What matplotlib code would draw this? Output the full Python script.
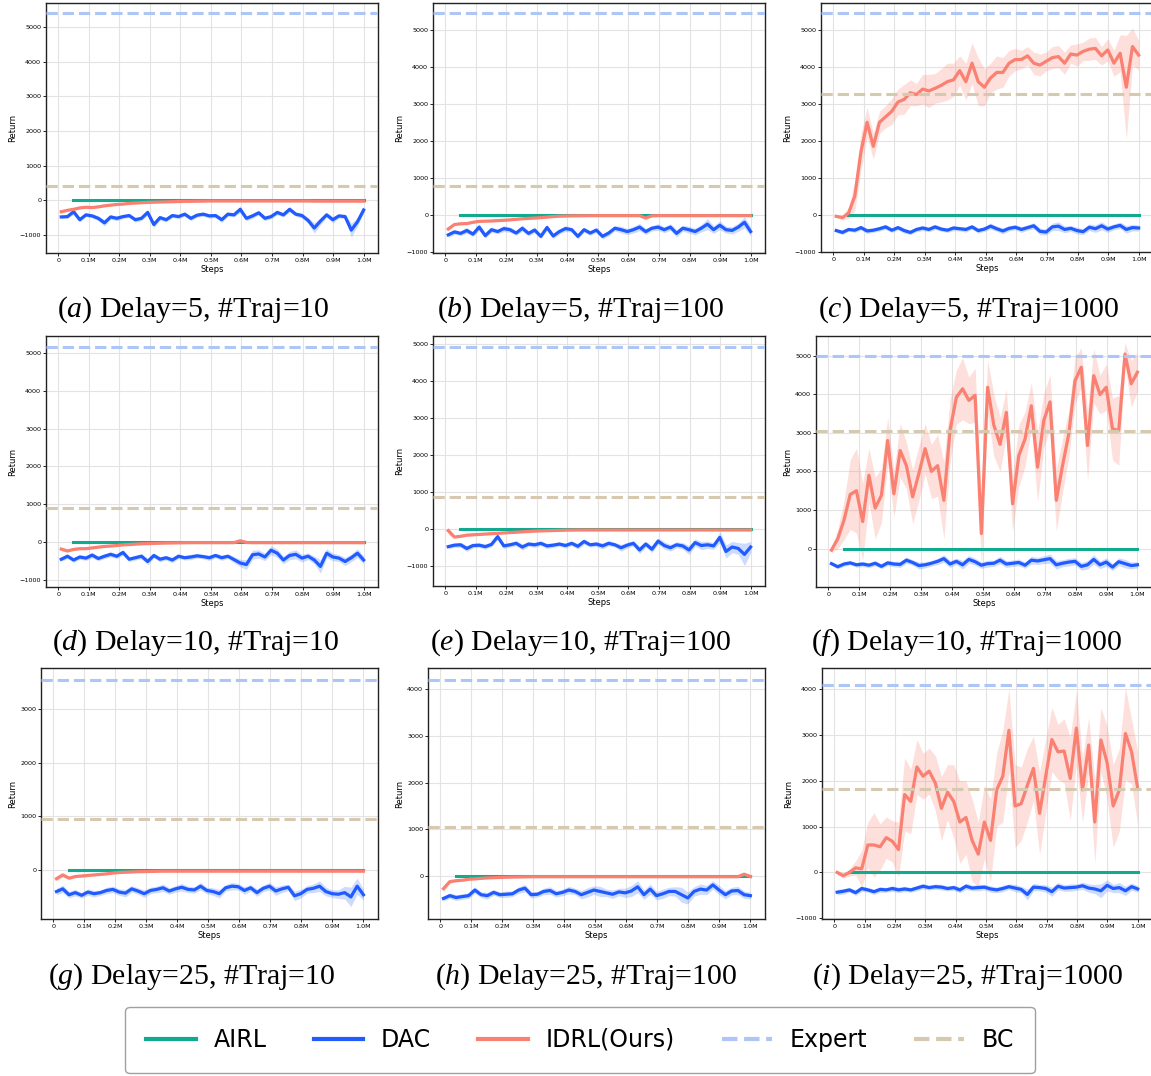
import numpy as np
import matplotlib
matplotlib.use("Agg")
import matplotlib.pyplot as plt
from matplotlib.lines import Line2D
from matplotlib.ticker import MultipleLocator

plt.rcParams["mathtext.fontset"] = "custom"
plt.rcParams["mathtext.rm"] = "Liberation Serif"
plt.rcParams["mathtext.it"] = "Liberation Serif:italic"

# evaluation steps (in millions)
STEPS = np.linspace(0.01, 1.0, 50)
AIRL_START = 0.05
AIRL_END = 1.0

LETTERS = ["a", "b", "c", "d", "e", "f", "g", "h", "i"]
DELAYS = [5, 5, 5, 10, 10, 10, 25, 25, 25]
TRAJS = [10, 100, 1000, 10, 100, 1000, 10, 100, 1000]

EXPERT = [5400, 5450, 5450, 5175, 4927, 4990, 3540, 4200, 4087]
BC = [410, 790, 3262, 886, 867, 3047, 950, 1048, 1812]
AIRL = [0, 0, 0, 0, 0, 0, 0, 0, 0]

X_TICKS = [0, 0.1, 0.2, 0.3, 0.4, 0.5, 0.6, 0.7, 0.8, 0.9, 1.0]
X_TICK_LABELS = ["0", "0.1M", "0.2M", "0.3M", "0.4M", "0.5M",
                 "0.6M", "0.7M", "0.8M", "0.9M", "1.0M"]

# (a) Delay=5, #Traj=10
DAC_A = [-480, -470, -330, -560, -420, -450, -520, -650, -480, -520,
         -470, -440, -560, -520, -350, -700, -500, -560, -440, -470,
         -400, -520, -430, -400, -450, -440, -560, -400, -420, -260,
         -520, -450, -360, -520, -470, -350, -420, -260, -400, -440,
         -580, -800, -600, -420, -560, -450, -470, -860, -620, -280]
DAC_A_SD = [40, 50, 80, 60, 50, 60, 70, 90, 60, 70,
            60, 50, 70, 60, 80, 90, 70, 60, 60, 60,
            60, 70, 60, 60, 60, 60, 80, 60, 60, 90,
            70, 70, 60, 70, 60, 70, 60, 80, 60, 70,
            80, 150, 100, 60, 90, 60, 60, 200, 120, 80]
IDRL_A = [-330, -290, -260, -220, -200, -210, -190, -160, -140, -120,
          -110, -90, -80, -70, -60, -55, -50, -45, -40, -35,
          -30, -30, -25, -25, -20, -20, -20, -20, -20, -20,
          -20, -20, -20, -20, -20, -20, -20, -20, -20, -20,
          -20, -25, -25, -25, -25, -25, -25, -25, -25, -25]
IDRL_A_SD = [30, 30, 25, 25, 20, 20, 20, 15, 15, 15,
             12, 12, 10, 10, 10, 10, 10, 10, 10, 10,
             8, 8, 8, 8, 8, 8, 8, 8, 8, 8,
             8, 8, 8, 8, 8, 8, 8, 8, 8, 8,
             8, 10, 10, 10, 10, 10, 10, 10, 10, 10]

# (b) Delay=5, #Traj=100
DAC_B = [-540, -460, -500, -420, -520, -330, -560, -400, -450, -370,
         -400, -490, -360, -500, -410, -580, -340, -570, -450, -370,
         -400, -580, -400, -490, -410, -580, -490, -360, -400, -450,
         -400, -330, -450, -360, -330, -400, -330, -500, -360, -400,
         -450, -360, -250, -400, -280, -400, -420, -330, -200, -450]
DAC_B_SD = [60, 70, 60, 80, 60, 90, 70, 70, 60, 80,
            70, 60, 80, 70, 70, 60, 80, 70, 70, 80,
            60, 70, 70, 60, 60, 70, 80, 70, 90, 80,
            90, 100, 80, 70, 90, 80, 90, 100, 80, 90,
            90, 100, 150, 100, 120, 90, 100, 110, 150, 120]
IDRL_B = [-380, -260, -240, -235, -200, -175, -170, -165, -155, -145,
          -135, -120, -105, -95, -85, -75, -60, -45, -35, -30,
          -25, -25, -22, -20, -20, -20, -20, -20, -20, -20,
          -20, -20, -85, -25, -20, -20, -20, -20, -20, -20,
          -20, -20, -20, -20, -20, -20, -20, -20, -20, -20]
IDRL_B_SD = [40, 30, 25, 25, 20, 20, 18, 15, 15, 15,
             12, 12, 10, 10, 10, 10, 10, 10, 10, 10,
             8, 8, 8, 8, 8, 8, 8, 8, 8, 8,
             8, 8, 30, 8, 8, 8, 8, 8, 8, 8,
             8, 8, 8, 8, 8, 8, 8, 8, 8, 8]

# (c) Delay=5, #Traj=1000
DAC_C = [-430, -480, -400, -420, -350, -440, -420, -380, -330, -420,
         -350, -430, -480, -400, -360, -400, -330, -390, -420, -360,
         -380, -400, -330, -430, -390, -310, -380, -440, -370, -340,
         -400, -350, -300, -450, -470, -330, -310, -400, -370, -430,
         -460, -340, -380, -300, -390, -330, -290, -400, -350, -360]
DAC_C_SD = [50, 60, 50, 60, 60, 70, 60, 60, 70, 60,
            60, 70, 60, 60, 70, 60, 70, 60, 60, 70,
            60, 70, 60, 70, 60, 80, 70, 80, 70, 70,
            80, 70, 80, 90, 80, 100, 120, 90, 80, 90,
            80, 90, 100, 110, 90, 80, 90, 100, 90, 80]
IDRL_C = [-45, -80, 45, 500, 1700, 2500, 1850, 2500, 2650, 2800,
          3050, 3120, 3300, 3250, 3400, 3350, 3420, 3500, 3600, 3650,
          3900, 3600, 4100, 3600, 3450, 3700, 3850, 3850, 4100, 4200,
          4200, 4300, 4100, 4050, 4150, 4250, 4280, 4100, 4350, 4320,
          4420, 4480, 4500, 4300, 4460, 4100, 4370, 3450, 4550, 4320]
IDRL_C_SD = [30, 60, 150, 400, 500, 400, 350, 300, 300, 350,
             350, 400, 350, 300, 400, 450, 400, 450, 500, 450,
             400, 500, 550, 650, 500, 400, 450, 400, 350, 300,
             250, 250, 300, 300, 250, 300, 300, 300, 250, 300,
             250, 300, 300, 250, 300, 350, 500, 1400, 500, 400]

# (d) Delay=10, #Traj=10
DAC_D = [-460, -380, -480, -400, -430, -350, -440, -380, -330, -380,
         -280, -460, -420, -380, -520, -360, -460, -420, -480, -380,
         -420, -400, -370, -390, -420, -360, -420, -380, -470, -560,
         -600, -340, -320, -400, -220, -300, -480, -360, -330, -430,
         -380, -480, -650, -300, -400, -430, -520, -420, -300, -480]
DAC_D_SD = [50, 60, 60, 60, 60, 70, 60, 60, 70, 60,
            70, 60, 60, 70, 80, 60, 70, 60, 70, 60,
            60, 70, 60, 60, 70, 60, 70, 60, 80, 100,
            130, 120, 110, 100, 120, 110, 100, 110, 120, 100,
            90, 100, 180, 120, 100, 90, 110, 100, 120, 100]
IDRL_D = [-190, -240, -200, -180, -180, -160, -140, -120, -110, -95,
          -80, -70, -60, -50, -45, -40, -35, -30, -28, -25,
          -22, -20, -20, -20, -20, -20, -20, -20, -20, 30,
          -15, -20, -20, -20, -20, -20, -20, -20, -20, -20,
          -20, -20, -20, -20, -20, -20, -20, -20, -20, -20]
IDRL_D_SD = [50, 30, 25, 20, 20, 18, 15, 15, 12, 12,
             10, 10, 10, 10, 10, 10, 10, 8, 8, 8,
             8, 8, 8, 8, 8, 8, 8, 8, 8, 30,
             8, 8, 8, 8, 8, 8, 8, 8, 8, 8,
             8, 8, 8, 8, 8, 8, 8, 8, 8, 8]

# (e) Delay=10, #Traj=100
DAC_E = [-470, -430, -420, -520, -440, -430, -470, -410, -200, -450,
         -420, -380, -480, -400, -420, -380, -450, -430, -400, -440,
         -380, -460, -330, -420, -400, -450, -380, -420, -500, -430,
         -380, -560, -400, -540, -320, -440, -500, -420, -450, -560,
         -360, -440, -420, -450, -220, -600, -480, -520, -680, -480]
DAC_E_SD = [50, 60, 70, 80, 60, 60, 70, 60, 80, 70,
            60, 70, 80, 60, 70, 60, 70, 60, 60, 70,
            60, 80, 70, 60, 70, 80, 70, 60, 90, 80,
            70, 100, 80, 90, 80, 100, 90, 80, 90, 120,
            100, 110, 100, 90, 150, 180, 150, 160, 300, 150]
IDRL_E = [-40, -210, -190, -160, -150, -140, -130, -120, -110, -100,
          -90, -80, -70, -60, -50, -45, -40, -35, -30, -25,
          -22, -20, -20, -20, -20, -20, -20, -20, -20, -20,
          -20, -20, -20, -20, -20, -20, -20, -20, -20, -20,
          -20, -20, -20, -20, -20, -20, -20, -20, -20, -20]
IDRL_E_SD = [110, 30, 25, 20, 20, 18, 15, 15, 12, 12,
             10, 10, 10, 10, 10, 10, 10, 8, 8, 8,
             8, 8, 8, 8, 8, 8, 8, 8, 8, 8,
             8, 8, 8, 8, 8, 8, 8, 8, 8, 8,
             8, 8, 8, 8, 8, 8, 8, 8, 8, 8]

# (f) Delay=10, #Traj=1000
DAC_F = [-390, -470, -400, -370, -420, -400, -430, -380, -460, -370,
         -400, -410, -300, -360, -440, -420, -380, -330, -260, -400,
         -330, -420, -280, -340, -430, -390, -380, -300, -400, -380,
         -360, -430, -300, -320, -290, -260, -420, -380, -350, -330,
         -460, -420, -280, -420, -350, -480, -340, -390, -440, -420]
DAC_F_SD = [40, 50, 60, 50, 60, 70, 60, 70, 60, 70,
            70, 80, 80, 70, 90, 80, 70, 80, 100, 90,
            80, 110, 100, 90, 80, 90, 80, 100, 90, 80,
            90, 80, 100, 90, 100, 120, 110, 90, 100, 90,
            100, 110, 120, 100, 110, 90, 100, 110, 90, 80]
IDRL_F = [-40, 250, 730, 1400, 1500, 700, 1900, 1050, 1380, 2800,
          1420, 2540, 2150, 1340, 1950, 2590, 2000, 2150, 1250, 3080,
          3920, 4140, 3840, 3970, 390, 4180, 3200, 2700, 3530, 1160,
          2410, 2840, 3700, 2110, 3320, 3800, 1250, 2150, 2970, 4350,
          4700, 2670, 4480, 3990, 4180, 3100, 3060, 5040, 4270, 4570]
IDRL_F_SD = [60, 250, 500, 900, 1100, 1000, 700, 800, 700, 600,
             600, 700, 600, 700, 700, 650, 700, 800, 1000, 800,
             700, 800, 600, 700, 900, 700, 800, 700, 600, 700,
             800, 700, 600, 900, 700, 700, 800, 700, 600, 600,
             500, 900, 700, 500, 600, 800, 900, 300, 600, 500]

# (g) Delay=25, #Traj=10
DAC_G = [-400, -350, -460, -420, -470, -410, -440, -420, -380, -360,
         -410, -430, -350, -390, -440, -380, -360, -330, -390, -350,
         -320, -360, -370, -300, -380, -400, -440, -330, -300, -310,
         -380, -330, -420, -340, -300, -390, -350, -320, -480, -440,
         -360, -340, -300, -400, -440, -450, -420, -500, -300, -460]
DAC_G_SD = [60, 70, 60, 60, 50, 60, 60, 50, 60, 60,
            60, 70, 60, 60, 70, 60, 60, 70, 60, 60,
            70, 60, 60, 70, 60, 70, 80, 60, 70, 60,
            70, 60, 70, 60, 70, 80, 70, 60, 90, 80,
            70, 80, 100, 80, 70, 80, 120, 180, 150, 100]
IDRL_G = [-160, -90, -150, -120, -110, -100, -90, -80, -70, -55,
          -45, -40, -35, -30, -28, -25, -22, -20, -20, -20,
          -20, -20, -20, -20, -20, -20, -20, -20, -20, -20,
          -20, -20, -20, -20, -20, -20, -20, -20, -20, -20,
          -20, -20, -20, -20, -20, -20, -20, -20, -20, -20]
IDRL_G_SD = [40, 40, 25, 20, 20, 18, 15, 15, 12, 12,
             10, 10, 10, 10, 10, 10, 10, 8, 8, 8,
             8, 8, 8, 8, 8, 8, 8, 8, 8, 8,
             8, 8, 8, 8, 8, 8, 8, 8, 8, 8,
             8, 8, 8, 8, 8, 8, 8, 8, 8, 8]

# (h) Delay=25, #Traj=100
DAC_H = [-480, -420, -460, -440, -420, -300, -400, -420, -350, -400,
         -390, -380, -300, -260, -400, -390, -330, -310, -380, -350,
         -300, -330, -400, -350, -300, -330, -360, -390, -340, -360,
         -320, -230, -400, -280, -420, -380, -330, -330, -400, -470,
         -330, -280, -300, -190, -300, -400, -320, -310, -400, -420]
DAC_H_SD = [50, 60, 60, 60, 60, 70, 60, 70, 60, 60,
            70, 60, 70, 80, 70, 60, 70, 80, 70, 70,
            80, 70, 90, 100, 90, 110, 80, 90, 80, 100,
            120, 130, 100, 110, 90, 100, 90, 100, 160, 130,
            100, 110, 100, 90, 100, 90, 80, 90, 80, 70]
IDRL_H = [-270, -120, -100, -90, -70, -60, -50, -40, -35, -30,
          -25, -22, -20, -18, -15, -15, -15, -15, -15, -15,
          -15, -15, -15, -15, -15, -15, -15, -15, -15, -15,
          -15, -15, -15, -15, -15, -15, -15, -15, -15, -15,
          -15, -15, -15, -15, -15, -15, -15, -15, 40, -10]
IDRL_H_SD = [80, 40, 25, 20, 20, 18, 15, 15, 12, 12,
             10, 10, 10, 10, 10, 10, 10, 8, 8, 8,
             8, 8, 8, 8, 8, 8, 8, 8, 8, 8,
             8, 8, 8, 8, 8, 8, 8, 8, 8, 8,
             8, 8, 8, 8, 8, 8, 8, 8, 30, 8]

# (i) Delay=25, #Traj=1000
DAC_I = [-430, -410, -380, -440, -350, -380, -420, -370, -380, -350,
         -380, -360, -380, -340, -300, -330, -310, -320, -350, -330,
         -380, -300, -340, -330, -320, -360, -380, -350, -310, -340,
         -370, -480, -320, -330, -350, -420, -300, -340, -330, -320,
         -290, -340, -360, -400, -280, -350, -330, -400, -310, -360]
DAC_I_SD = [60, 60, 50, 60, 60, 50, 60, 60, 50, 60,
            60, 60, 50, 60, 60, 50, 60, 60, 50, 60,
            60, 70, 60, 70, 60, 70, 60, 70, 60, 80,
            70, 120, 80, 70, 80, 100, 80, 70, 80, 70,
            80, 90, 100, 150, 120, 90, 110, 100, 80, 70]
IDRL_I = [0, -70, 0, 100, 80, 600, 600, 560, 760, 680,
          500, 1700, 1550, 2300, 2100, 2210, 1950, 1400, 1750, 1550,
          1100, 1200, 700, 400, 1100, 700, 1800, 2100, 3100, 1450,
          1500, 1900, 2270, 1290, 2100, 2900, 2630, 2650, 2050, 3150,
          1800, 2780, 1100, 2890, 2400, 1450, 1800, 3030, 2630, 1830]
IDRL_I_SD = [50, 50, 80, 150, 400, 500, 700, 500, 450, 450,
             600, 800, 700, 600, 500, 500, 600, 700, 600, 800,
             900, 800, 900, 700, 800, 900, 800, 1000, 900, 900,
             800, 800, 700, 900, 800, 700, 600, 700, 900, 800,
             700, 600, 900, 700, 800, 900, 900, 1000, 700, 800]

DAC = [DAC_A, DAC_B, DAC_C, DAC_D, DAC_E, DAC_F, DAC_G, DAC_H, DAC_I]
DAC_SD = [DAC_A_SD, DAC_B_SD, DAC_C_SD, DAC_D_SD, DAC_E_SD, DAC_F_SD,
          DAC_G_SD, DAC_H_SD, DAC_I_SD]
IDRL = [IDRL_A, IDRL_B, IDRL_C, IDRL_D, IDRL_E, IDRL_F, IDRL_G, IDRL_H, IDRL_I]
IDRL_SD = [IDRL_A_SD, IDRL_B_SD, IDRL_C_SD, IDRL_D_SD, IDRL_E_SD, IDRL_F_SD,
           IDRL_G_SD, IDRL_H_SD, IDRL_I_SD]

Y_LIMITS = [(-1520, 5690), (-1030, 5730), (-1010, 5730),
            (-1196, 5460), (-1534, 5225), (-995, 5508),
            (-912, 3770), (-920, 4455), (-1015, 4460)]

# axes boxes in pixels: left, top, right, bottom
BOXES = [(46, 3, 378, 253), (433, 3, 765, 253), (821, 3, 1153, 252),
         (46, 336, 378, 587), (433, 336, 765, 586), (816, 336, 1152, 587),
         (41, 668, 378, 919), (428, 668, 765, 919), (822, 668, 1152, 919)]
CAPTION_X = [193, 581, 968, 196, 580, 966, 192, 586, 967]
CAPTION_Y = [317, 317, 317, 650, 650, 650, 984, 984, 984]

C_AIRL = "#12aa8f"
C_DAC = "#1f5bff"
C_IDRL = "#fa8072"
C_EXPERT = "#adc6f7"
C_BC = "#d6c9b0"

W, H = 1151, 1076


def generate_plots():
    fig = plt.figure(figsize=(W / 100, H / 100), dpi=100)

    for k in range(9):
        left, top, right, bottom = BOXES[k]
        ax = fig.add_axes([left / W, 1 - bottom / H, (right - left) / W, (bottom - top) / H])

        dac = np.array(DAC[k])
        dac_sd = np.array(DAC_SD[k])
        idrl = np.array(IDRL[k])
        idrl_sd = np.array(IDRL_SD[k])

        ax.plot([AIRL_START, AIRL_END], [AIRL[k], AIRL[k]], color=C_AIRL, lw=2.2, zorder=3)
        ax.fill_between(STEPS, dac - dac_sd, dac + dac_sd, color=C_DAC, alpha=0.22, lw=0, zorder=2)
        ax.plot(STEPS, dac, color=C_DAC, lw=2.3, zorder=4)
        ax.fill_between(STEPS, idrl - idrl_sd, idrl + idrl_sd, color=C_IDRL, alpha=0.25, lw=0, zorder=2)
        ax.plot(STEPS, idrl, color=C_IDRL, lw=2.3, zorder=5)
        ax.axhline(EXPERT[k], color=C_EXPERT, lw=2.2, ls="--", zorder=6)
        ax.axhline(BC[k], color=C_BC, lw=2.2, ls="--", zorder=6)

        ax.set_xlim(-0.04, 1.047)
        ax.set_ylim(*Y_LIMITS[k])
        ax.set_xticks(X_TICKS)
        ax.set_xticklabels(X_TICK_LABELS)
        ax.yaxis.set_major_locator(MultipleLocator(1000))
        ax.tick_params(labelsize=4.6, length=2, width=0.6, pad=1.5)
        ax.grid(True, color="#e3e3e3", lw=0.8)
        ax.set_axisbelow(True)
        for sp in ax.spines.values():
            sp.set_color("#222222")
            sp.set_linewidth(1.0)
        ax.set_xlabel("Steps", fontsize=6, labelpad=1.5)
        ax.set_ylabel("Return", fontsize=6, labelpad=2)

        caption = r"($\mathit{%s}$) Delay=%d, #Traj=%d" % (LETTERS[k], DELAYS[k], TRAJS[k])
        fig.text(CAPTION_X[k] / W, 1 - CAPTION_Y[k] / H, caption,
                 ha="center", va="baseline", fontsize=21.5, family="Liberation Serif")

    handles = [
        Line2D([], [], color=C_AIRL, lw=3),
        Line2D([], [], color=C_DAC, lw=3),
        Line2D([], [], color=C_IDRL, lw=3),
        Line2D([], [], color=C_EXPERT, lw=3, ls="--"),
        Line2D([], [], color=C_BC, lw=3, ls="--"),
    ]
    labels = ["AIRL", "DAC", "IDRL(Ours)", "Expert", "BC"]
    leg = fig.legend(handles, labels, loc="center", bbox_to_anchor=(580 / W, 1 - 1040 / H),
                     ncol=5, fontsize=17, handlelength=2.1, handletextpad=0.75,
                     columnspacing=2.0, borderpad=0.9, fancybox=True)
    leg.get_frame().set_edgecolor("#888888")

    fig.savefig("out.png", dpi=100)
    plt.close(fig)


if __name__ == "__main__":
    generate_plots()
